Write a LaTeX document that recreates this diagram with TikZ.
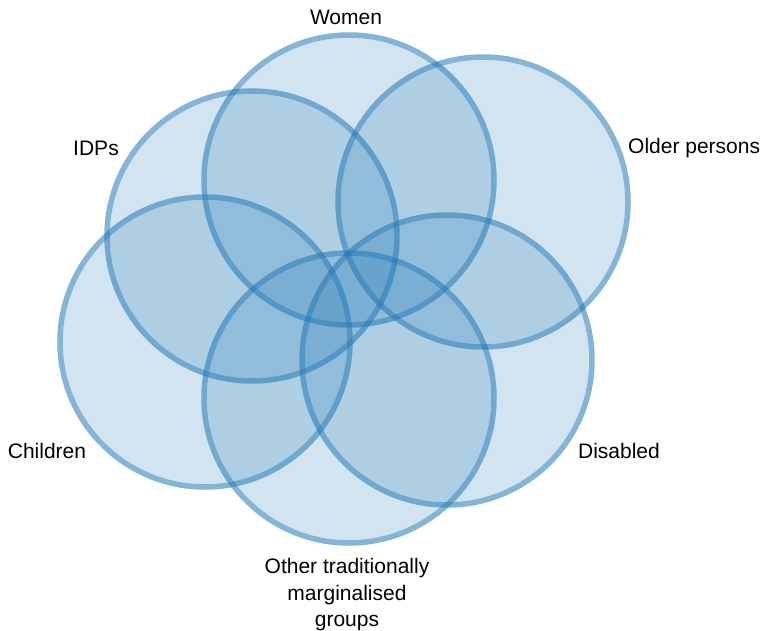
\documentclass[tikz,border=0pt]{standalone}
\usepackage{fontspec}
\setmainfont{Liberation Sans}
\usepackage{xcolor}
\definecolor{vennblue}{RGB}{31,119,180}
\tikzset{
  groupfill/.style={fill=vennblue, fill opacity=0.2},
  groupring/.style={draw=vennblue, draw opacity=0.55, line width=5.5pt},
  grouplabel/.style={font=\fontsize{21}{26.5}\selectfont, text=black, inner sep=0pt, align=center}
}

\begin{document}
\begin{tikzpicture}[x=1pt, y=-1pt]
\useasboundingbox (0,0) rectangle (763,631);

    % circles
    \foreach \cx/\cy/\name in {349/180/women, 483/202/older, 252/236/idps, 205/342/children, 447/360/disabled, 349/398/other}{
        \fill[groupfill] (\cx,\cy) circle[radius=142.25];
        \draw[groupring] (\cx,\cy) circle[radius=145];
        \coordinate (\name) at (\cx,\cy);
    }

    % labels
    \node[grouplabel] (lwomen) at (346,17) {Women};
    \node[grouplabel, anchor=west] (lolder) at (628,148) {Older persons};
    \node[grouplabel] (lidps) at (96,148) {IDPs};
    \node[grouplabel] (lchildren) at (47,451) {Children};
    \node[grouplabel] (ldisabled) at (619,451) {Disabled};
    \node[grouplabel] (lother) at (347,595) {Other traditionally\\marginalised\\groups};

\end{tikzpicture}
\end{document}
